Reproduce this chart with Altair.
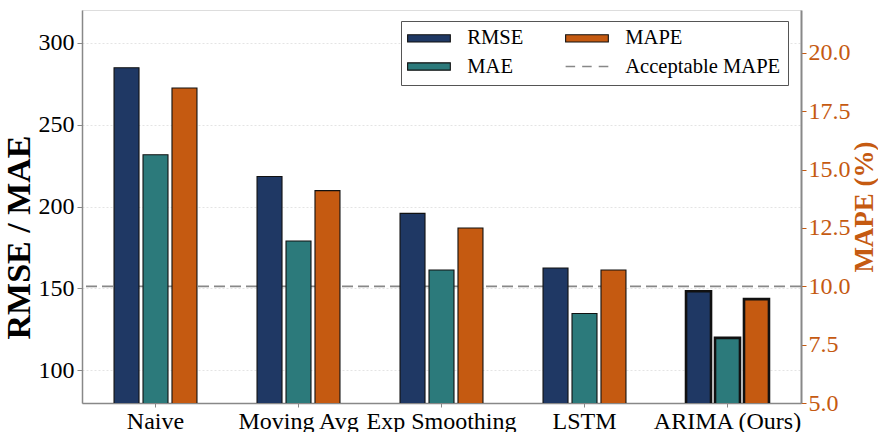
import altair as alt
import pandas as pd

# Forecast error metrics per model
models = ["Naive", "Moving Avg", "Exp Smoothing", "LSTM", "ARIMA (Ours)"]
rmse = [284.7, 218.3, 195.8, 162.4, 148.2]
mae = [231.6, 178.9, 161.2, 134.7, 119.8]
mape = [18.5, 14.1, 12.5, 10.7, 9.45]
acceptable_mape = [10.0]
highlight_model = "ARIMA (Ours)"

left_ticks = [100, 150, 200, 250, 300]
right_ticks = [5.0, 7.5, 10.0, 12.5, 15.0, 17.5, 20.0]

series_order = ["RMSE", "MAE", "MAPE"]
legend_order = ["RMSE", "MAE", "MAPE", "Acceptable MAPE"]
legend_colors = ["#1f3864", "#2c7a7b", "#c55a11", "#888888"]

FONT = "Liberation Serif"
ORANGE = "#c55a11"
GRAY = "#888888"

err_df = pd.DataFrame({
    "model": models * 2,
    "series": ["RMSE"] * len(models) + ["MAE"] * len(models),
    "value": rmse + mae,
})
pct_df = pd.DataFrame({"model": models, "series": "MAPE", "value": mape})
thr_df = pd.DataFrame({"value": acceptable_mape})

is_line = "datum.value === 'Acceptable MAPE'"
legend = alt.Legend(
    title=None,
    orient="none",
    legendX=319,
    legendY=11,
    columns=2,
    columnPadding=38,
    rowPadding=7.2,
    padding=7,
    labelFont=FONT,
    labelFontSize=20.6,
    labelColor="black",
    labelOffset=38.6,
    symbolSize=456,
    symbolType=alt.ExprRef(
        expr=f"{is_line} ? 'M-1,0H-0.11M0.55,0H1.44M2.1,0H3' : 'M-1,-0.34H3V0.34H-1Z'"
    ),
    symbolStrokeColor=alt.ExprRef(expr=f"{is_line} ? '#888888' : '#111111'"),
    symbolStrokeWidth=alt.ExprRef(expr=f"{is_line} ? 1.6 : 1.1"),
    symbolOpacity=1,
    strokeColor="#555555",
    fillColor="white",
    cornerRadius=0,
)

color_enc = alt.Color(
    "series:N",
    scale=alt.Scale(domain=legend_order, range=legend_colors),
    legend=legend,
)

x_enc = alt.X(
    "model:N",
    sort=models,
    scale=alt.Scale(paddingInner=0.42, paddingOuter=0.224),
    axis=alt.Axis(
        title=None,
        labelAngle=0,
        labelFont=FONT,
        labelFontSize=24,
        labelColor="black",
        labelPadding=2,
        tickColor=GRAY,
        tickSize=4,
        domainColor=GRAY,
        domainWidth=1.5,
    ),
)
xoff_enc = alt.XOffset(
    "series:N",
    scale=alt.Scale(domain=series_order, paddingInner=0.138, paddingOuter=0),
)

edge_width = (
    alt.when(alt.datum.model == highlight_model)
    .then(alt.value(2.6))
    .otherwise(alt.value(1.1))
)

left_axis = alt.Axis(
    orient="left",
    values=left_ticks,
    title="RMSE / MAE",
    titleFont=FONT,
    titleFontSize=34,
    titleFontWeight="bold",
    titleColor="black",
    titlePadding=2,
    titleY=227,
    labelFont=FONT,
    labelFontSize=24,
    labelColor="black",
    labelPadding=3,
    tickSize=5,
    tickColor=GRAY,
    domainColor=GRAY,
    domainWidth=1.5,
    grid=True,
    gridColor="#dddddd",
    gridDash=[2, 2],
    gridWidth=0.8,
)

right_scale = alt.Scale(domain=[5, 21.84], nice=False, zero=False)
right_axis = alt.Axis(
    orient="right",
    values=right_ticks,
    format=".1f",
    title="MAPE (%)",
    titleFont=FONT,
    titleFontSize=27,
    titleFontWeight="bold",
    titleColor=ORANGE,
    titleAngle=270,
    titleBaseline="top",
    titlePadding=1,
    labelFont=FONT,
    labelFontSize=24,
    labelColor=ORANGE,
    labelPadding=2,
    tickSize=5,
    tickColor=ORANGE,
    domainColor=GRAY,
    domainWidth=2,
    grid=False,
)

# RMSE and MAE bars on the left axis
err_bars = alt.Chart(err_df).mark_bar(stroke="#111111", clip=True).encode(
    x=x_enc,
    xOffset=xoff_enc,
    y=alt.Y(
        "value:Q",
        scale=alt.Scale(domain=[80, 320], nice=False, zero=False),
        axis=left_axis,
    ),
    color=color_enc,
    strokeWidth=edge_width,
)

# MAPE bars and the acceptable threshold on the right axis
pct_bars = alt.Chart(pct_df).mark_bar(stroke="#111111", clip=True).encode(
    x=x_enc,
    xOffset=xoff_enc,
    y=alt.Y("value:Q", scale=right_scale, axis=right_axis),
    color=color_enc,
    strokeWidth=edge_width,
)
threshold = alt.Chart(thr_df).mark_rule(
    color=GRAY, strokeDash=[11, 5], strokeWidth=1.8
).encode(
    y=alt.Y("value:Q", scale=right_scale, axis=right_axis),
)
pct_layer = alt.layer(threshold, pct_bars)

chart = (
    alt.layer(pct_layer, err_bars)
    .resolve_scale(y="independent")
    .properties(
        width=719,
        height=393,
        padding={"left": 82, "top": 10, "right": 77, "bottom": 29},
        autosize=alt.AutoSizeParams(type="none"),
        background="white",
    )
    .configure_view(stroke="#222222", strokeWidth=1.3)
    .configure(font=FONT)
)

chart.save("out.html", embed_options={"renderer": "svg", "actions": False})
